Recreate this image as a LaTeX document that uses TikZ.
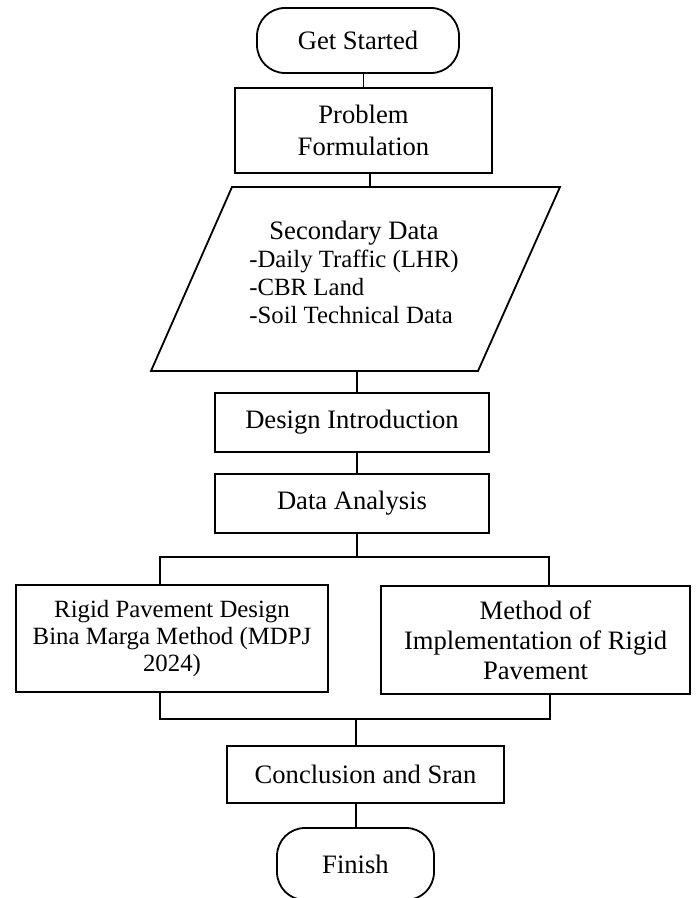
\documentclass[tikz,border=0pt]{standalone}
\usepackage{fontspec}
\setmainfont{Liberation Serif}
\usetikzlibrary{calc}
\tikzset{
  termbox/.style={draw,rounded corners=14pt,inner sep=0pt,align=center},
  procbox/.style={draw,inner sep=0pt,align=center},
}

\begin{document}
\begin{tikzpicture}[x=0.5pt,y=-0.5pt,line width=0.9pt,font=\fontsize{13.3}{14}\selectfont]
\useasboundingbox (0,0) rectangle (695,898);
\node[termbox,minimum width=101pt,minimum height=32.5pt] (start) at (358,40.5) {Get Started};
\node[procbox,minimum width=128.5pt,minimum height=42.5pt] (problem) at (363.5,130.5) {Problem\\[2pt]Formulation};
\coordinate (pTL) at (232,187);
\coordinate (pTR) at (560,187);
\coordinate (pBR) at (478,371);
\coordinate (pBL) at (151,371);
\draw (pTL) -- (pTR) -- (pBR) -- (pBL) -- cycle;
\node[align=center] (secdata) at (354,276) {Secondary Data\\{\fontsize{12.4}{14}\selectfont\begin{tabular}[t]{@{}l@{}}-Daily Traffic (LHR)\\-CBR Land\\-Soil Technical Data\end{tabular}}};
\coordinate (secin) at (370,187);
\coordinate (secout) at (357,371);
\node[procbox,minimum width=137pt,minimum height=29.5pt] (design) at (352,422.5) {Design Introduction};
\node[procbox,minimum width=137pt,minimum height=29.5pt] (analysis) at (352,503.5) {Data Analysis};
\coordinate (split) at (357,557);
\coordinate (splitL) at (160,557);
\coordinate (splitR) at (549,557);
\node[procbox,minimum width=156pt,minimum height=53.5pt,font=\fontsize{12.4}{13.5}\selectfont] (rigid) at (172,638.5) {Rigid Pavement Design\\Bina Marga Method (MDPJ\\2024)};
\node[procbox,minimum width=154.5pt,minimum height=54pt,font=\fontsize{13.3}{15}\selectfont] (method) at (535.5,640) {Method of\\Implementation of Rigid\\Pavement};
\coordinate (joinL) at (160,719);
\coordinate (joinR) at (550,719);
\coordinate (join) at (356,719);
\node[procbox,minimum width=138.5pt,minimum height=28.5pt] (concl) at (365.5,774.5) {Conclusion and Sran};
\node[termbox,minimum width=78.5pt,minimum height=36pt] (finish) at (355.5,864) {Finish};
\draw (start.south -| problem.north) -- (problem.north);
\draw (problem.south -| secin) -- (secin);
\draw (secout) -- (secout |- design.north);
\draw (secout |- design.south) -- (secout |- analysis.north);
\draw (secout |- analysis.south) -- (split);
\draw (splitL |- rigid.north) -- (splitL) -- (splitR) -- (splitR |- method.north);
\draw (joinL |- rigid.south) -- (joinL) -- (joinR) -- (joinR |- method.south);
\draw (join) -- (join |- concl.north);
\draw (join |- concl.south) -- (join |- finish.north);
\end{tikzpicture}
\end{document}
